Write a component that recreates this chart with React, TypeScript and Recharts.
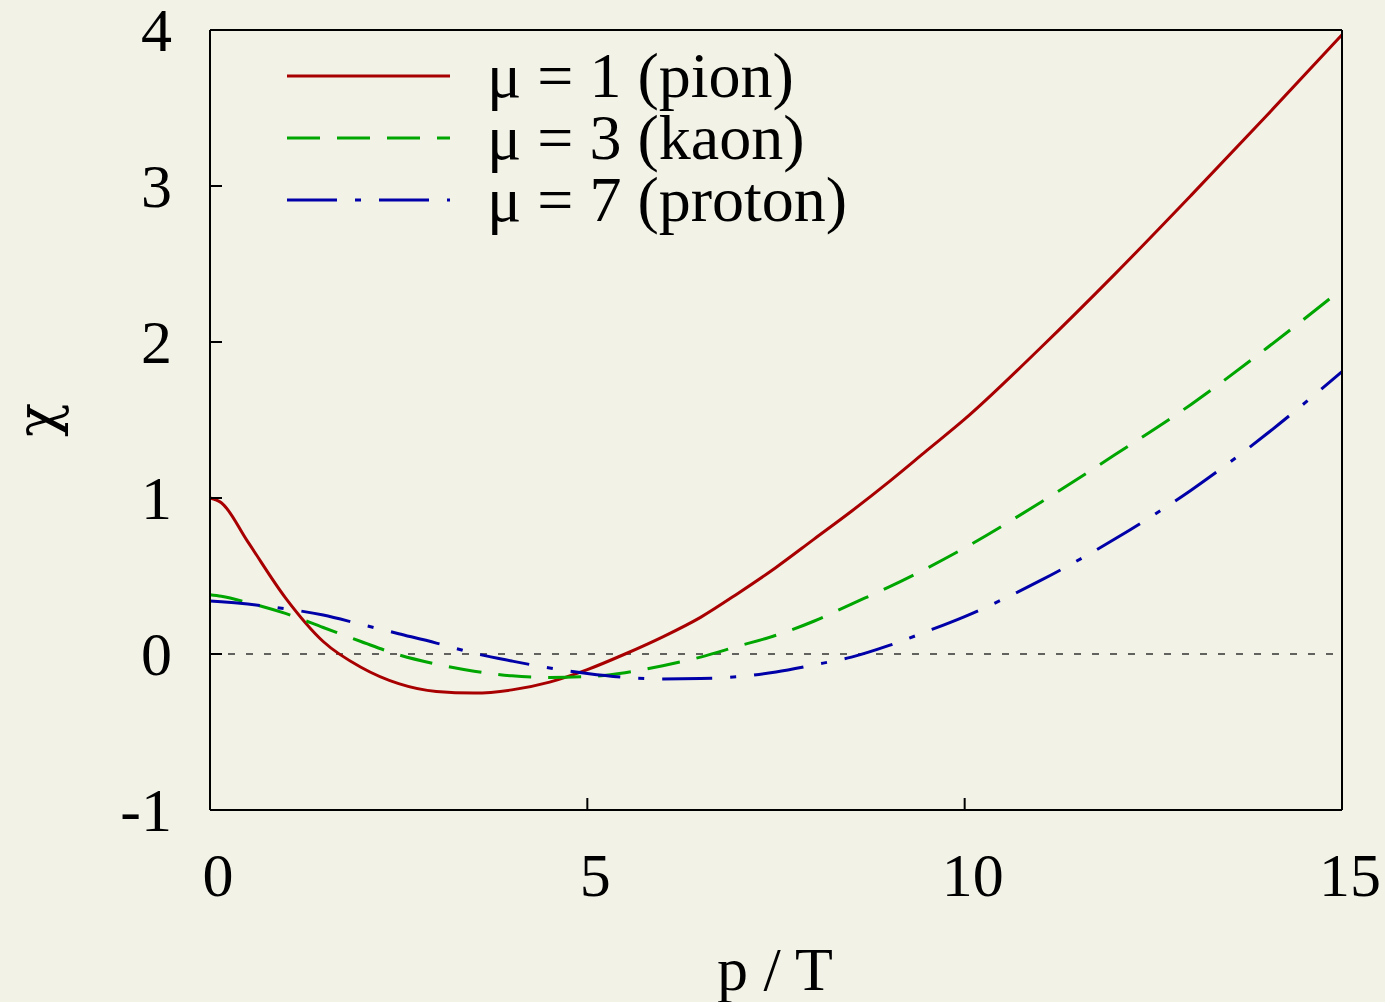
import { LineChart, Line, XAxis, YAxis, ReferenceLine } from 'recharts';

// p/T grid and chi values
const pT = [0, 0.15, 0.5, 1, 1.5, 2, 2.5, 3, 3.5, 4, 4.5, 5, 5.5, 6, 6.5, 7, 7.5, 8, 8.5, 9, 9.5, 10, 11, 12, 13, 14, 15];
const pion = [1.0, 0.97, 0.72, 0.36, 0.08, -0.085, -0.19, -0.24, -0.25, -0.23, -0.18, -0.1, 0.0, 0.11, 0.235, 0.39, 0.555, 0.735, 0.915, 1.105, 1.305, 1.505, 1.96, 2.44, 2.94, 3.45, 3.97];
const kaon = [0.38, 0.37, 0.33, 0.26, 0.17, 0.08, -0.005, -0.065, -0.11, -0.14, -0.15, -0.145, -0.12, -0.075, -0.02, 0.05, 0.12, 0.21, 0.32, 0.43, 0.55, 0.68, 0.97, 1.28, 1.6, 1.96, 2.34];
const proton = [0.34, 0.335, 0.32, 0.29, 0.25, 0.19, 0.13, 0.07, 0.005, -0.045, -0.09, -0.125, -0.15, -0.16, -0.157, -0.145, -0.115, -0.07, -0.02, 0.055, 0.145, 0.24, 0.47, 0.74, 1.05, 1.41, 1.81];

const xTicks = [0, 5, 10, 15];
const yTicks = [-1, 0, 1, 2, 3, 4];

const data = pT.map((p, i) => ({ p, pion: pion[i], kaon: kaon[i], proton: proton[i] }));

const series = [
  { key: 'pion', name: 'μ = 1 (pion)', color: '#a80000', dash: undefined },
  { key: 'kaon', name: 'μ = 3 (kaon)', color: '#00a600', dash: '33 17' },
  { key: 'proton', name: 'μ = 7 (proton)', color: '#0000a8', dash: '50 18 6 18' },
];

const FONT = '"Liberation Serif", "Times New Roman", serif';
const BG = '#f2f2e7';

function XTick({ x, y, payload }: any) {
  return (
    <text x={x + 8} y={y + 86} textAnchor="middle" fontFamily={FONT} fontSize={62} fill="#000">
      {payload.value}
    </text>
  );
}

function YTick({ x, y, payload }: any) {
  return (
    <text x={x - 38} y={y + 21} textAnchor="end" fontFamily={FONT} fontSize={62} fill="#000">
      {payload.value}
    </text>
  );
}

const XTitle = () => (
  <text x={775} y={990} textAnchor="middle" fontFamily={FONT} fontSize={62} fill="#000">
    p / T
  </text>
);

const YTitle = () => (
  <text x={56} y={420} textAnchor="middle" fontFamily='"DejaVu Serif", serif' fontSize={56} fill="#000" transform="rotate(-90 56 420)">
    χ
  </text>
);

function LegendBox() {
  return (
    <svg width={620} height={200} style={{ position: 'absolute', left: 280, top: 40 }}>
      {series.map((s, i) => (
        <g key={s.key}>
          <line x1={7} x2={170} y1={36 + i * 62} y2={36 + i * 62} stroke={s.color} strokeWidth={3} strokeDasharray={s.dash} />
          <text x={207} y={57 + i * 62} fontFamily={FONT} fontSize={64} fill="#000">
            {s.name}
          </text>
        </g>
      ))}
    </svg>
  );
}

export default function App() {
  return (
    <div style={{ position: 'absolute', left: 0, top: 0, width: 1385, height: 1002, background: BG }}>
      <LineChart width={1385} height={1002} data={data} margin={{ top: 29, right: 42, left: 0, bottom: 0 }}>
        <XAxis
          dataKey="p"
          type="number"
          domain={[0, 15]}
          ticks={xTicks}
          height={192}
          stroke="#000"
          strokeWidth={2}
          tickSize={-12}
          tickMargin={12}
          tick={<XTick />}
          label={<XTitle />}
        />
        <XAxis
          xAxisId="top"
          dataKey="p"
          type="number"
          orientation="top"
          domain={[0, 15]}
          ticks={xTicks}
          height={1}
          stroke="#000"
          strokeWidth={2}
          tickSize={-12}
          tick={false}
        />
        <YAxis
          type="number"
          domain={[-1, 4]}
          ticks={yTicks}
          width={210}
          stroke="#000"
          strokeWidth={2}
          tickSize={-12}
          tickMargin={12}
          tick={<YTick />}
          label={<YTitle />}
        />
        <YAxis
          yAxisId="r"
          type="number"
          orientation="right"
          domain={[-1, 4]}
          ticks={yTicks}
          width={1}
          stroke="#000"
          strokeWidth={2}
          tickSize={-12}
          tick={false}
        />
        <ReferenceLine y={0} stroke="#333" strokeWidth={1.5} strokeDasharray="7 11" />
        {series.map((s) => (
          <Line
            key={s.key}
            dataKey={s.key}
            name={s.name}
            type="monotone"
            stroke={s.color}
            strokeWidth={3}
            strokeDasharray={s.dash}
            dot={false}
            activeDot={false}
            isAnimationActive={false}
          />
        ))}
      </LineChart>
      <LegendBox />
    </div>
  );
}
